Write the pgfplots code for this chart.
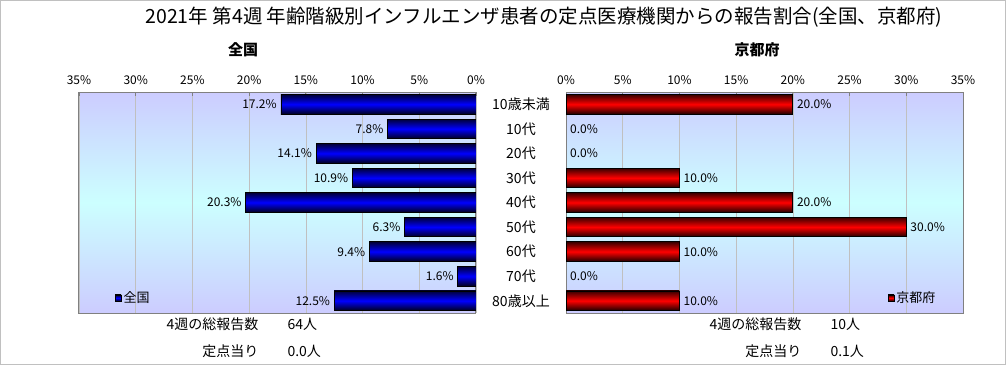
\documentclass[border=0pt]{standalone}
\usepackage{fontspec}
\setmainfont{Noto Sans CJK JP}
\usepackage{pgfplots}
\pgfplotsset{compat=1.18}
\definecolor{bgtop}{HTML}{CCCCFF}
\definecolor{bgmid}{HTML}{CCFFFF}
\definecolor{gridc}{HTML}{C0C0C0}
\definecolor{framec}{HTML}{808080}
\newcommand\fs[1]{\fontsize{#1}{#1}\selectfont}
\pgfplotsset{
  common/.style={
    width=397pt, height=221pt, scale only axis,
    anchor=south west,
    xmin=0, xmax=35, ymin=-0.5, ymax=8.5, y dir=reverse,
    xtick={0,5,...,35},
    xticklabels={0\%,5\%,10\%,15\%,20\%,25\%,30\%,35\%},
    xtick pos=right, xticklabel pos=right,
    xticklabel style={font=\fs{12}, yshift=4pt},
    ytick={0,...,8},
    ytick style={draw=none},
    xtick style={framec, line width=0.8pt},
    major tick length=4pt,
    xmajorgrids, grid style={gridc, line width=0.6pt},
    axis line style={framec, line width=1pt},
    axis background/.style={top color=bgtop, bottom color=bgtop, middle color=bgmid},
    /pgf/number format/assume math mode=true,
    legend style={draw=none, fill=none, font=\fs{13}, anchor=west,
      legend cell align=left, inner sep=0pt},
  },
  bluebar/.style={xbar, bar width=0.8, bar shift=0pt, draw=black, line width=0.8pt,
    top color=blue!22!black, bottom color=blue!12!black, middle color=blue},
  redbar/.style={xbar, bar width=0.8, bar shift=0pt, draw=black, line width=0.8pt,
    top color=red!22!black, bottom color=red!12!black, middle color=red},
}
\begin{document}
\begin{tikzpicture}[x=1pt,y=1pt]
\path[use as bounding box] (0,0) rectangle (1006,365);
\draw[framec!50] (0.5,0.5) rectangle (1005.5,364.5);
\node[font=\fs{19.5}] at (544,348) {2021年 第4週 年齢階級別インフルエンザ患者の定点医療機関からの報告割合(全国、京都府)};
\node[font=\fs{15}\bfseries] at (243,315) {全国};
\node[font=\fs{15}\bfseries] at (757,315) {京都府};

\begin{axis}[common, at={(79pt,52pt)}, x dir=reverse,
  yticklabel pos=right,
  yticklabels={10歳未満,10代,20代,30代,40代,50代,60代,70代,80歳以上},
  yticklabel style={anchor=center, xshift=45pt, font=\fs{14}},
  legend style={at={(0.09,0.068)}},
  legend image code/.code={\draw[fill=blue, draw=black, line width=0.6pt] (0pt,-3pt) rectangle (6pt,3pt);},
]
\addplot[bluebar] coordinates {(17.2,0)};
\addlegendentry{全国}
\addplot[bluebar, forget plot] coordinates {(7.8,1)};
\addplot[bluebar, forget plot] coordinates {(14.1,2)};
\addplot[bluebar, forget plot] coordinates {(10.9,3)};
\addplot[bluebar, forget plot] coordinates {(20.3,4)};
\addplot[bluebar, forget plot] coordinates {(6.3,5)};
\addplot[bluebar, forget plot] coordinates {(9.4,6)};
\addplot[bluebar, forget plot] coordinates {(1.6,7)};
\addplot[bluebar, forget plot] coordinates {(12.5,8)};
\addplot[draw=none, mark=none, point meta=x, forget plot,
  nodes near coords={\pgfmathprintnumber[fixed,fixed zerofill,precision=1]{\pgfplotspointmeta}\%},
  every node near coord/.append style={anchor=east, font=\fs{12}, inner sep=4pt}]
  coordinates {(17.2,0) (7.8,1) (14.1,2) (10.9,3) (20.3,4) (6.3,5) (9.4,6) (1.6,7) (12.5,8)};
\end{axis}

\begin{axis}[common, at={(566pt,52pt)},
  yticklabels={},
  legend style={at={(0.81,0.068)}},
  legend image code/.code={\draw[fill=red, draw=black, line width=0.6pt] (0pt,-3pt) rectangle (6pt,3pt);},
]
\addplot[redbar] coordinates {(20,0)};
\addlegendentry{京都府}
\addplot[redbar, forget plot] coordinates {(10,3)};
\addplot[redbar, forget plot] coordinates {(20,4)};
\addplot[redbar, forget plot] coordinates {(30,5)};
\addplot[redbar, forget plot] coordinates {(10,6)};
\addplot[redbar, forget plot] coordinates {(10,8)};
\addplot[draw=none, mark=none, point meta=x, forget plot,
  nodes near coords={\pgfmathprintnumber[fixed,fixed zerofill,precision=1]{\pgfplotspointmeta}\%},
  every node near coord/.append style={anchor=west, font=\fs{12}, inner sep=4pt}]
  coordinates {(20,0) (0,1) (0,2) (10,3) (20,4) (30,5) (10,6) (0,7) (10,8)};
\end{axis}

\node[font=\fs{14}, anchor=east] at (262,41) {4週の総報告数};
\node[font=\fs{14}, anchor=west] at (284,41) {64人};
\node[font=\fs{14}, anchor=east] at (262,14) {定点当り};
\node[font=\fs{14}, anchor=west] at (284,14) {0.0人};
\node[font=\fs{14}, anchor=east] at (805,41) {4週の総報告数};
\node[font=\fs{14}, anchor=west] at (827,41) {10人};
\node[font=\fs{14}, anchor=east] at (805,14) {定点当り};
\node[font=\fs{14}, anchor=west] at (827,14) {0.1人};
\end{tikzpicture}
\end{document}
